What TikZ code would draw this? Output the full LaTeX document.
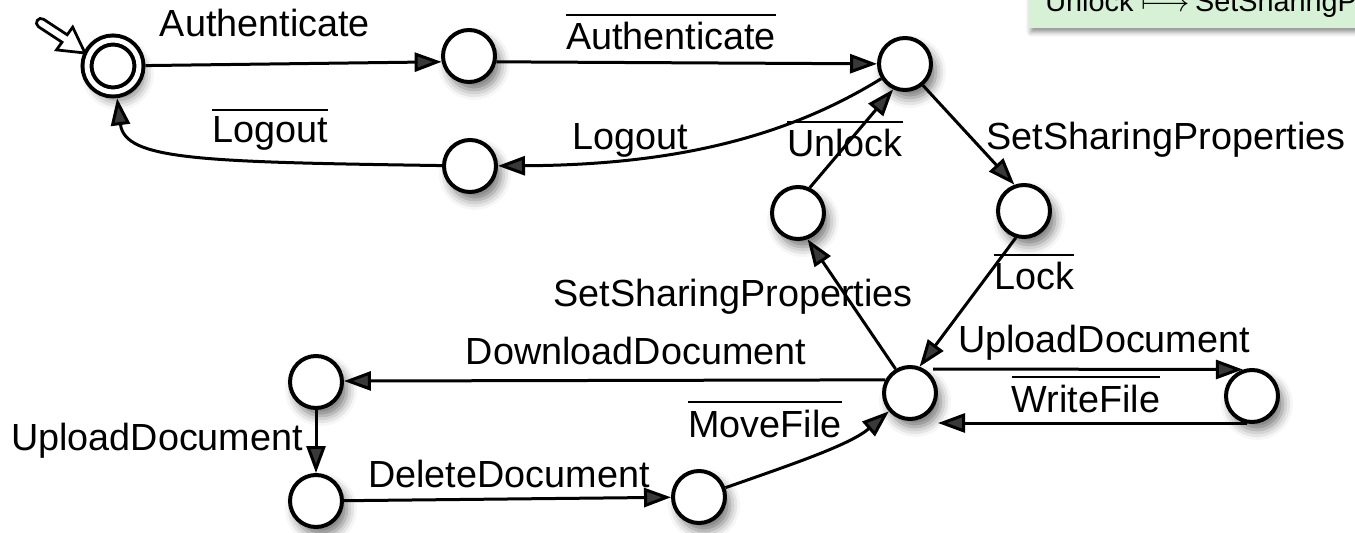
\documentclass[tikz,border=0pt]{standalone}
\usepackage{fontspec}
\setmainfont{Liberation Sans}
\usetikzlibrary{arrows.meta,shadows.blur}
\definecolor{notegreen}{RGB}{214,241,214}
% complemented action: text with a bar above it
\newcommand\negated[1]{\vbox{\hrule height 1.1pt\kern 3.7pt\hbox{#1}}}

\begin{document}
\begin{tikzpicture}[x=0.02cm,y=-0.02cm,
  st/.style={circle, draw, line width=0.08cm, fill=white, minimum size=1.04cm,
    inner sep=0pt, blur shadow={shadow xshift=0.1cm, shadow yshift=-0.16cm,
    shadow blur radius=0.2cm, shadow opacity=55}},
  trans/.style={line width=0.06cm, -{Triangle[length=0.54cm,width=0.38cm]}},
  lbl/.style={font=\fontsize{21.5}{26}\selectfont, inner sep=0pt, anchor=base}]

\useasboundingbox (0,0) rectangle (1355,533);
\clip (0,0) rectangle (1355,533);

% note in the upper right corner
\fill[notegreen, blur shadow={shadow xshift=0.04cm, shadow yshift=-0.08cm,
  shadow blur radius=0.1cm, shadow opacity=45}] (1029,-40) rectangle (1420,28);
\node[font=\fontsize{16.4}{20}\selectfont, inner sep=0pt, anchor=base west] (note)
  at (1045,12) {Unlock~$\longmapsto$\,SetSharingProperties};

% states
\node[st, double, double distance=0.1cm, outer sep=0.13cm] (s0) at (113,66) {};
\node[st] (s1) at (469,56) {};
\node[st] (s2) at (905,64) {};
\node[st] (s3) at (470,166) {};
\node[st] (s4) at (798,213) {};
\node[st] (s5) at (1024,211) {};
\node[st] (s6) at (910,393) {};
\node[st] (s7) at (1252,396) {};
\node[st] (s8) at (316,382) {};
\node[st] (s9) at (316,501) {};
\node[st] (s10) at (699,497) {};

% initial-state marker
\draw[line width=0.055cm, fill=white, line join=miter]
  (43.6,19.3) -- (67.2,34.8) -- (72.7,27.1) -- (85,53) -- (56.5,49.9)
  -- (62.0,42.2) -- (38.4,26.7) .. controls (33.5,23.2) and (38.7,15.8) .. (43.6,19.3) -- cycle;

% transitions
\draw[trans] (s0) -- (s1.192);
\draw[trans] (s1.-12) -- (s2);
\draw[trans] (s2) .. controls (790,135) and (680,165) .. (s3);
\draw[trans] (s3) .. controls (200,162) and (125,160) .. (s0);
\draw[trans] (s2.-50) -- (s5.110);
\draw[trans] (s4.65) -- (s2.245);
\draw[trans] (s5.253) -- (s6.70);
\draw[trans] (s6.121) -- (s4.290);
\draw[trans] (s6.152) -- (s8.2);
\draw[trans] (s8) -- (s9);
\draw[trans] (s9) -- (s10);
\draw[trans] (s10) .. controls (790,465) and (850,445) .. (s6);
\draw[trans] ([shift={(23,-24)}]s6.center) -- (s7.109);
\draw[trans] ([shift={(-5,27)}]s7.center) -- ([shift={(28,30)}]s6.center);

% labels
\node[lbl] (l1) at (265,37) {Authenticate};
\node[lbl] (l2) at (671,50) {\negated{Authenticate}};
\node[lbl] (l3) at (630,150) {Logout};
\node[lbl] (l4) at (270,143) {\negated{Logout}};
\node[lbl] (l5) at (845,157) {\negated{Unlock}};
\node[lbl] (l6) at (1166,150) {SetSharingProperties};
\node[lbl] (l7) at (1034,290) {\negated{Lock}};
\node[lbl] (l8) at (733,307) {SetSharingProperties};
\node[lbl] (l9) at (636,364) {DownloadDocument};
\node[lbl] (l10) at (157,450) {UploadDocument};
\node[lbl] (l11) at (509,487) {DeleteDocument};
\node[lbl] (l12) at (765,437) {\negated{MoveFile}};
\node[lbl] (l13) at (1104,353) {UploadDocument};
\node[lbl] (l14) at (1086,412) {\negated{WriteFile}};
\end{tikzpicture}
\end{document}
